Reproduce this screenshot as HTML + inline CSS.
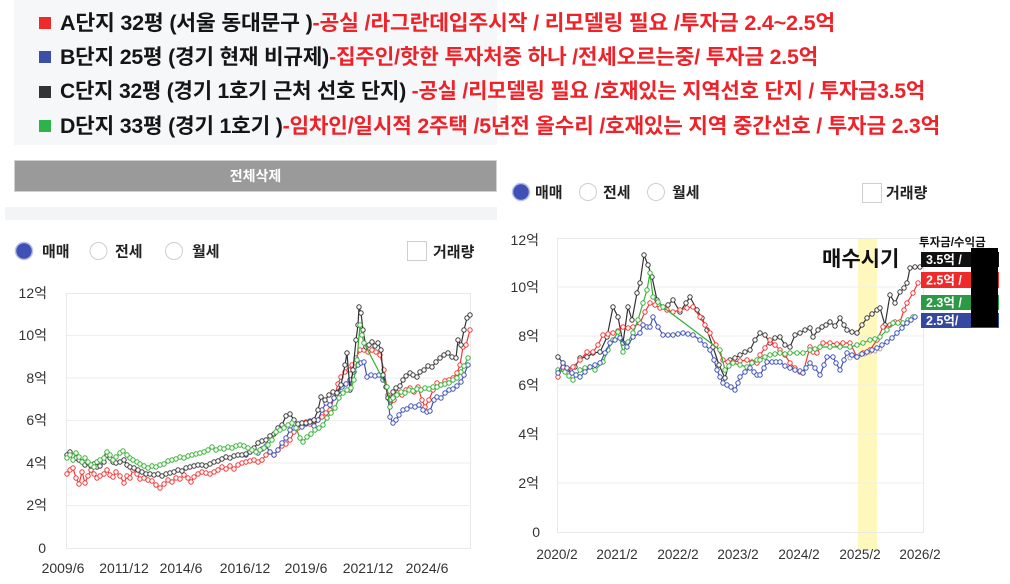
<!DOCTYPE html>
<html><head><meta charset="utf-8">
<style>
html,body{margin:0;padding:0}
body{width:1010px;height:584px;position:relative;overflow:hidden;background:#fff;font-family:"Liberation Sans","Noto Sans CJK KR",sans-serif}
.box{position:absolute;left:14px;top:0;width:483px;height:145px;background:#f6f7f9}
.ln{position:absolute;left:60px;height:24px;line-height:24px;font-size:21px;font-weight:700;white-space:nowrap;color:#151515;transform-origin:0 50%;transform:scaleX(0.88);font-family:"Liberation Sans","Noto Sans CJK KR",sans-serif;letter-spacing:-0.2px}
.r{color:#ee2229}
.sq{position:absolute;left:39px;width:12px;height:12px}
.btn{position:absolute;left:14px;top:160px;width:481px;height:30px;background:#9a9a9a;border:1px solid #d0d0d0;color:#fff;font-weight:700;font-size:14px;text-align:center;line-height:30px;font-family:"Liberation Sans","Noto Sans CJK KR",sans-serif}
.band{position:absolute;left:5px;top:207px;width:492px;height:13px;background:#f3f4f6}
</style></head>
<body>
<div class="box"></div>
<div class="sq" style="top:17px;background:#ee2a2a"></div>
<div class="sq" style="top:51px;background:#3c4fa6"></div>
<div class="sq" style="top:86px;background:#333"></div>
<div class="sq" style="top:120px;background:#2db34a"></div>
<div class="ln" style="top:12px">A단지 32평 (서울 동대문구 )<span class="r">-공실 /라그란데입주시작 / 리모델링 필요 /투자금 2.4~2.5억</span></div>
<div class="ln" style="top:46px">B단지 25평 (경기 현재 비규제)<span class="r">-집주인/핫한 투자처중 하나 /전세오르는중/ 투자금 2.5억</span></div>
<div class="ln" style="top:80px">C단지 32평 (경기 1호기 근처 선호 단지) <span class="r">-공실 /리모델링 필요 /호재있는 지역선호 단지 / 투자금3.5억</span></div>
<div class="ln" style="top:115px">D단지 33평 (경기 1호기 )<span class="r">-임차인/일시적 2주택 /5년전 올수리 /호재있는 지역 중간선호 / 투자금 2.3억</span></div>
<div class="btn">전체삭제</div>
<div class="band"></div>

<svg width="1010" height="584" style="position:absolute;left:0;top:0" xmlns="http://www.w3.org/2000/svg">
<defs>
<marker id="mR" markerUnits="userSpaceOnUse" markerWidth="8" markerHeight="8" refX="4" refY="4" overflow="visible"><circle cx="4" cy="4" r="2.2" fill="#fff" stroke="#f23636" stroke-width="1"/></marker>
<marker id="mB" markerUnits="userSpaceOnUse" markerWidth="8" markerHeight="8" refX="4" refY="4" overflow="visible"><circle cx="4" cy="4" r="2.2" fill="#fff" stroke="#3f51b5" stroke-width="1"/></marker>
<marker id="mK" markerUnits="userSpaceOnUse" markerWidth="8" markerHeight="8" refX="4" refY="4" overflow="visible"><circle cx="4" cy="4" r="2.2" fill="#fff" stroke="#3a3a3a" stroke-width="1"/></marker>
<marker id="mG" markerUnits="userSpaceOnUse" markerWidth="8" markerHeight="8" refX="4" refY="4" overflow="visible"><circle cx="4" cy="4" r="2.2" fill="#fff" stroke="#35b035" stroke-width="1"/></marker>
<marker id="mY" markerUnits="userSpaceOnUse" markerWidth="8" markerHeight="8" refX="4" refY="4" overflow="visible"><circle cx="4" cy="4" r="2" fill="#fff" stroke="#aaa" stroke-width="1"/></marker>
</defs>
<style>
.pr{fill:none;stroke:#f23636;stroke-width:1.2;marker-start:url(#mR);marker-mid:url(#mR);marker-end:url(#mR)}
.pb{fill:none;stroke:#3f51b5;stroke-width:1.2;marker-start:url(#mB);marker-mid:url(#mB);marker-end:url(#mB)}
.pk{fill:none;stroke:#333;stroke-width:1.2;marker-start:url(#mK);marker-mid:url(#mK);marker-end:url(#mK)}
.pg{fill:none;stroke:#35b035;stroke-width:1.2;marker-start:url(#mG);marker-mid:url(#mG);marker-end:url(#mG)}
.py{fill:none;stroke:#bbb;stroke-width:1;marker-start:url(#mY);marker-mid:url(#mY);marker-end:url(#mY)}
.ax{font-family:"Liberation Sans","Noto Sans CJK KR",sans-serif;fill:#333}
.rl{font-family:"Liberation Sans","Noto Sans CJK KR",sans-serif;fill:#222;font-weight:700}
</style>

<!-- LEFT controls -->
<circle cx="24" cy="251" r="8.5" fill="#3f51b5" stroke="#b9c1e6" stroke-width="1.5"/>
<text class="rl" x="42" y="256.5" font-size="15">매매</text>
<circle cx="98.5" cy="251" r="8.5" fill="#fff" stroke="#cfcfcf" stroke-width="1"/>
<text class="rl" x="115" y="256.5" font-size="15">전세</text>
<circle cx="174" cy="251" r="8.5" fill="#fff" stroke="#cfcfcf" stroke-width="1"/>
<text class="rl" x="192" y="256.5" font-size="15">월세</text>
<rect x="407.5" y="241.5" width="19" height="19" fill="#fff" stroke="#cfcfcf"/>
<text class="rl" x="433" y="257" font-size="15">거래량</text>

<!-- LEFT chart grid -->
<g stroke="#eeeeee" stroke-width="1">
<line x1="66" y1="335.5" x2="470" y2="335.5"/><line x1="66" y1="378" x2="470" y2="378"/>
<line x1="66" y1="420.5" x2="470" y2="420.5"/><line x1="66" y1="463" x2="470" y2="463"/>
<line x1="66" y1="505.5" x2="470" y2="505.5"/>
</g>
<rect x="66.5" y="293.5" width="404" height="255" fill="none" stroke="#e9e9e9"/>
<g class="ax" font-size="14" text-anchor="end">
<text x="47" y="298">12억</text><text x="47" y="340">10억</text><text x="47" y="383">8억</text>
<text x="47" y="425">6억</text><text x="47" y="468">4억</text><text x="47" y="510">2억</text><text x="46" y="553">0</text>
</g>
<g class="ax" font-size="14" text-anchor="middle">
<text x="63" y="573">2009/6</text><text x="124" y="573">2011/12</text><text x="181" y="573">2014/6</text>
<text x="245" y="573">2016/12</text><text x="306" y="573">2019/6</text><text x="368" y="573">2021/12</text><text x="427" y="573">2024/6</text>
</g>

<polyline class="pr" points="67,474 70,470 73,468 76,478 79,484 82,472 85,483 88,476 91,470 94,474 97,478 100,476 104,474 107,470 110,475 113,477 116,472 120,476 124,483 127,476 130,478 133,470 137,474 140,479 144,478 148,480 152,481 156,485 160,488 164,484 168,480 172,482 176,478 180,479 184,475 188,478 191,482 194,477 198,474 202,472 206,473 210,474 214,472 218,470 222,467 226,469 230,466 234,469 238,465 242,463 246,462 250,461 254,460 258,462 262,460 266,455 270,452 274,455 278,450 282,446 286,444 290,440 294,432 298,428 302,423 306,422 310,424 314,421 318,420 322,417 326,413 330,410 334,398 338,384 341,377 345,372 349,370 352,365 356,358 360,350 364,350 368,352 372,350 376,352 380,355 384,370 388,395 390,407 394,400 398,393 402,395 406,390 410,388 414,392 418,387 422,400 425,407 429,400 433,390 437,383 441,385 445,381 449,380 453,378 457,373 460,365 463,347 466,345 470,330"/>
<polyline class="pb" points="246,455 250,452 254,450 258,453 262,449 266,446 270,452 274,455 278,450 282,443 286,438 290,430 294,428 298,425 302,427 306,424 310,421 314,426 318,420 322,410 326,403 330,405 334,398 338,392 342,387 346,384 350,380 354,372 358,365 361,363 364,362 367,377 371,375 375,376 379,375 383,380 387,387 390,417 393,423 396,420 399,415 403,410 407,409 411,406 415,407 419,405 423,410 427,412 430,411 434,400 437,397 441,398 445,393 449,390 453,389 457,386 461,382 464,375 468,365"/>
<polyline class="pk" points="67,455 70,452 73,456 76,458 79,460 82,462 85,465 88,463 91,466 94,464 97,467 100,466 104,462 107,455 110,458 113,462 116,463 120,462 124,460 127,465 130,467 134,468 138,470 142,472 146,474 150,474 154,475 158,474 162,476 166,474 170,473 174,472 178,470 182,471 186,468 190,467 194,466 198,465 202,465 206,466 210,464 214,462 218,461 222,459 226,457 230,458 234,456 238,455 242,455 246,454 250,452 254,448 258,443 262,441 266,440 270,436 274,434 278,428 282,425 286,416 290,414 294,420 298,424 302,423 306,423 310,422 314,420 318,410 321,397 325,400 329,395 333,392 337,393 341,385 345,365 347,353 350,390 353,370 356,340 358,325 359,307 361,313 363,330 366,347 369,345 372,342 375,346 378,343 381,350 383,375 386,387 388,398 390,400 393,392 396,388 400,386 403,380 406,376 410,373 413,375 417,377 420,372 424,370 428,366 432,367 436,362 440,358 444,355 448,353 452,357 456,358 458,340 461,345 464,330 467,318 470,315"/>
<polyline class="pg" points="67,458 70,455 73,460 76,453 79,457 82,462 85,458 88,462 91,465 94,467 97,462 100,460 104,458 107,452 110,455 113,460 116,457 120,453 123,451 127,455 130,458 133,460 137,462 140,464 144,466 148,468 152,466 156,467 160,465 164,464 168,461 172,460 176,459 180,457 184,458 188,456 192,455 196,454 200,453 204,452 208,450 212,447 216,450 220,448 224,449 228,447 232,448 236,446 240,445 244,446 248,448 252,450 256,452 260,450 264,448 268,445 272,440 276,432 280,430 284,428 288,425 292,423 296,428 300,438 303,442 307,437 311,434 315,430 319,428 323,425 327,418 331,413 335,408 339,398 343,393 347,390 351,388 354,380 357,360 360,325 362,335 364,343 387,387 390,407 393,398 397,395 401,392 405,393 409,390 413,391 417,389 421,390 425,388 429,389 433,387 437,387 441,385 445,384 449,383 453,380 457,378 461,372 464,366 468,358"/>

<!-- RIGHT controls -->
<circle cx="521" cy="192" r="8.5" fill="#3f51b5" stroke="#b9c1e6" stroke-width="1.5"/>
<text class="rl" x="535" y="197.5" font-size="15">매매</text>
<circle cx="588" cy="192" r="8.5" fill="#fff" stroke="#cfcfcf" stroke-width="1"/>
<text class="rl" x="603" y="197.5" font-size="15">전세</text>
<circle cx="656" cy="192" r="8.5" fill="#fff" stroke="#cfcfcf" stroke-width="1"/>
<text class="rl" x="672" y="197.5" font-size="15">월세</text>
<rect x="862.5" y="183.5" width="19" height="19" fill="#fff" stroke="#cfcfcf"/>
<text class="rl" x="886" y="198" font-size="15">거래량</text>

<!-- RIGHT chart -->
<rect x="858" y="238" width="19" height="312" fill="#fff8bd"/>
<g stroke="#eeeeee" stroke-width="1">
<line x1="557" y1="287" x2="923" y2="287"/><line x1="557" y1="336" x2="923" y2="336"/>
<line x1="557" y1="385" x2="923" y2="385"/><line x1="557" y1="434" x2="923" y2="434"/>
<line x1="557" y1="483" x2="923" y2="483"/>
</g>
<rect x="557.5" y="238.5" width="366" height="294" fill="none" stroke="#e9e9e9"/>
<g class="ax" font-size="14" text-anchor="end">
<text x="539" y="245">12억</text><text x="539" y="292">10억</text><text x="539" y="341">8억</text>
<text x="539" y="390">6억</text><text x="539" y="439">4억</text><text x="539" y="488">2억</text><text x="540" y="537">0</text>
</g>
<g class="ax" font-size="13.5" text-anchor="middle">
<text x="557" y="559">2020/2</text><text x="617" y="559">2021/2</text><text x="678" y="559">2022/2</text>
<text x="738" y="559">2023/2</text><text x="799" y="559">2024/2</text><text x="860" y="559">2025/2</text><text x="920" y="559">2026/2</text>
</g>

<polyline class="pk" points="558,357 563,363 570,370 575,367 580,358 587,357 593,353 600,352 607,337 613,307 618,317 623,343 628,307 632,320 637,293 640,283 644,255 648,265 652,277 657,300 663,307 668,305 673,300 680,312 686,303 690,297 697,310 702,318 707,330 713,347 719,365 725,378 730,360 735,358 740,355 745,352 750,350 755,340 760,333 765,335 770,343 775,338 780,337 785,345 790,347 795,335 800,333 805,330 810,328 813,337 818,330 822,327 826,325 830,322 835,326 840,318 844,325 847,330 852,332 857,333 862,325 867,318 872,314 877,310 880,308 885,325 890,295 895,303 900,292 904,288 907,283 910,268 915,267 920,267"/>
<polyline class="py" points="850,358 855,356 860,355 865,354 870,352 875,351 880,349"/>
<polyline class="pr" points="558,377 563,367 568,369 573,367 580,360 587,352 593,352 598,345 603,335 608,334 613,333 618,331 623,327 628,328 633,327 640,323 645,312 650,303 655,305 660,308 667,310 673,312 680,310 687,308 693,307 700,317 705,325 710,333 716,345 723,360 728,362 733,362 740,361 747,360 752,362 757,363 760,355 765,348 770,340 775,345 780,350 785,355 790,363 795,368 800,372 803,373 810,347 813,352 817,353 823,343 830,343 837,344 843,343 850,343 857,357 863,353 870,350 877,340 883,327 890,325 895,322 900,322 904,310 907,303 913,293 918,283"/>
<polyline class="pg" points="558,370 565,372 569,376 573,380 580,370 585,368 590,367 595,370 603,362 608,350 613,340 618,332 623,352 628,342 633,333 638,320 643,303 647,290 650,273 653,297 658,302 663,307 720,350 725,370 729,366 733,363 740,365 747,367 752,363 757,360 760,360 765,357 770,355 775,354 780,353 785,354 790,353 797,353 803,353 810,350 815,349 820,347 830,347 840,347 850,347 857,345 863,343 870,340 875,339 880,337 887,330 893,323 898,323 903,323 908,320 913,317"/>
<polyline class="pb" points="558,373 563,363 567,368 572,373 576,375 580,377 585,372 590,367 595,365 600,363 605,353 610,343 615,340 620,338 627,347 633,337 640,333 643,325 647,327 650,327 653,317 658,327 663,335 668,335 673,335 678,334 683,333 688,334 693,335 700,340 705,345 710,350 714,360 717,370 720,377 723,383 727,385 731,387 735,390 738,383 740,377 745,372 750,368 754,372 757,375 760,375 764,368 767,362 772,362 776,362 780,362 785,366 790,368 795,370 800,371 803,373 806,368 810,363 815,368 820,375 824,365 827,357 833,357 836,363 840,370 844,360 847,353 852,355 857,357 862,354 867,352 872,350 877,348 882,345 887,342 892,338 897,333 902,328 907,323 911,320 915,317"/>

<text x="822" y="266" font-size="21" font-weight="700" fill="#111" font-family="Liberation Sans, Noto Sans CJK KR, sans-serif">매수시기</text>
<text x="919" y="246" font-size="11.5" font-weight="700" fill="#111" font-family="Liberation Sans, Noto Sans CJK KR, sans-serif">투자금/수익금</text>
<rect x="921" y="252" width="78" height="15" fill="#111"/>
<rect x="921" y="272" width="78" height="16" fill="#ee2a2a"/>
<rect x="921" y="295" width="78" height="15" fill="#2a9a45"/>
<rect x="921" y="313" width="78" height="15" fill="#3448a0"/>
<g font-size="12.5" font-weight="700" fill="#fff" font-family="Liberation Sans, Noto Sans CJK KR, sans-serif">
<text x="926" y="264">3.5억 / </text>
<text x="926" y="284.5">2.5억 / </text>
<text x="926" y="307">2.3억 / </text>
<text x="926" y="325">2.5억/ </text>
</g>
<rect x="971" y="248" width="27" height="79" fill="#000"/>
</svg>

<script>
(function(){
  var T=[775,758,865,880];
  var els=document.querySelectorAll('.ln');
  for(var i=0;i<els.length;i++){
    var e=els[i];
    e.style.transform='none';
    var w=e.getBoundingClientRect().width;
    if(w>0){e.style.transform='scaleX('+(T[i]/w)+')';}
  }
})();
</script>
</body></html>
